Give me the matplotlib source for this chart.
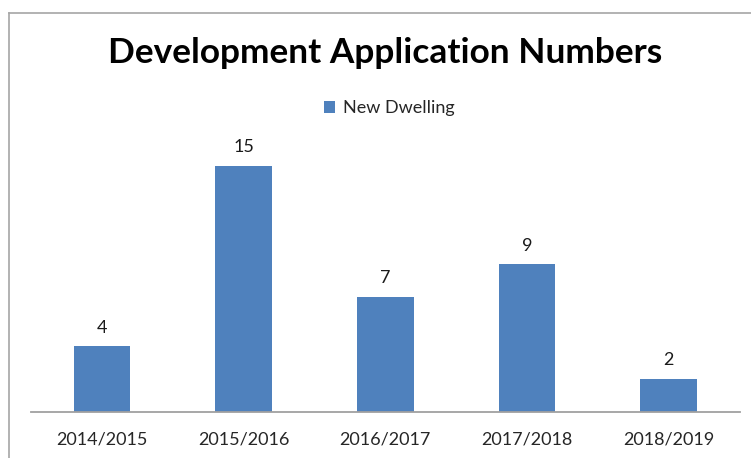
import matplotlib
matplotlib.use("Agg")
import matplotlib.pyplot as plt
from matplotlib.lines import Line2D

# ---------------------------------------------------------------------------
# Data
# ---------------------------------------------------------------------------
years = ['2014/2015', '2015/2016', '2016/2017', '2017/2018', '2018/2019']
new_dwelling = [4, 15, 7, 9, 2]

BAR_COLOR = '#4F81BD'
W, H = 751, 458

plt.rcParams['font.family'] = ['Lato', 'DejaVu Sans']

fig = plt.figure(figsize=(W / 100, H / 100), dpi=100)
fig.patch.set_facecolor('white')

# grey frame: top and left edge only (the rest is cropped off)
frame_x, frame_y = 9 / W, 1 - 12.5 / H
fig.add_artist(Line2D([frame_x, 1.0], [frame_y, frame_y], transform=fig.transFigure,
                      color='#A6A6A6', linewidth=1.2))
fig.add_artist(Line2D([frame_x, frame_x], [0.0, frame_y], transform=fig.transFigure,
                      color='#A6A6A6', linewidth=1.2))

ax = fig.add_axes([31 / W, 1 - 412 / H, 708.5 / W, 18 * 16.4 / H])

x = range(len(years))
bars = ax.bar(x, new_dwelling, width=0.4, color=BAR_COLOR, label='New Dwelling')

for xi, val in zip(x, new_dwelling):
    ax.annotate(str(val), (xi, val), xytext=(0, 10), textcoords='offset points',
                ha='center', va='baseline', fontsize=13, color='#1a1a1a')

ax.set_xlim(-0.5, len(years) - 0.5)
ax.set_ylim(0, 18)
ax.set_xticks(list(x))
ax.set_xticklabels(years, fontsize=13, color='#262626')
ax.tick_params(axis='x', length=0, pad=14)
ax.set_yticks([])

for side in ['top', 'right', 'left']:
    ax.spines[side].set_visible(False)
ax.spines['bottom'].set_color('#A0A0A0')
ax.spines['bottom'].set_linewidth(1.3)

fig.text(0.5 + 10 / W, 1 - 63 / H, 'Development Application Numbers', ha='center',
         va='baseline', fontsize=25.4, fontweight='bold', color='#000000')

fig.legend(handles=[bars], labels=['New Dwelling'], loc='center',
           bbox_to_anchor=(389 / W, 1 - 108.5 / H), frameon=False, fontsize=13,
           handlelength=0.6, handleheight=0.6, handletextpad=0.45,
           labelcolor='#262626')

fig.savefig('out.png', dpi=100)
